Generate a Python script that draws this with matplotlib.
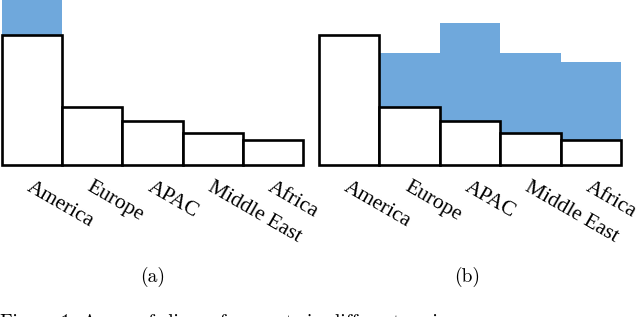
import matplotlib
matplotlib.use("Agg")
import matplotlib.pyplot as plt

regions = ["America", "Europe", "APAC", "Middle East", "Africa"]
# white bars (same in both panels)
base = [130, 58, 44, 32, 25]
# blue tops: panel (a) only America gets extra, panel (b) all but America
blue_a = [170, 0, 0, 0, 0]
blue_b = [0, 112, 142, 112, 103]

blue = "#6fa8dc"
W, H = 640, 317

fig = plt.figure(figsize=(6.4, 3.17), dpi=100)


def panel(left_px, width_px, blue_vals):
    ax = fig.add_axes([left_px / W, (H - 165) / H, width_px / W, 165 / H])
    x = range(len(regions))
    ax.bar(x, blue_vals, width=1, align="edge", color=blue, linewidth=0, zorder=1)
    ax.bar(x, base, width=1, align="edge", facecolor="white", edgecolor="black",
           linewidth=1.9, zorder=2, clip_on=False)
    ax.set_xlim(0, len(regions))
    ax.set_ylim(0, 165)
    ax.axis("off")
    for i, name in enumerate(regions):
        ax.text(i + 0.5 - 0.1, -25, name, rotation=-30, rotation_mode="anchor",
                ha="left", va="baseline", fontsize=15.5, family="Liberation Serif",
                clip_on=False)
    return ax


panel(2, 301, blue_a)
panel(319, 302, blue_b)

fig.text(153 / W, 1 - 277 / H, "(a)", ha="center", va="center", fontsize=14, family="cmr10")
fig.text(467 / W, 1 - 277 / H, "(b)", ha="center", va="center", fontsize=14, family="cmr10")
# caption is cut off by the bottom edge in the reference, only glyph tops show
fig.text(0, 1 - 327.5 / H, "Figure 1: Array of slices of requests in different regions.",
         ha="left", va="baseline", fontsize=14, family="cmr10")

fig.savefig("out.png", dpi=100)
